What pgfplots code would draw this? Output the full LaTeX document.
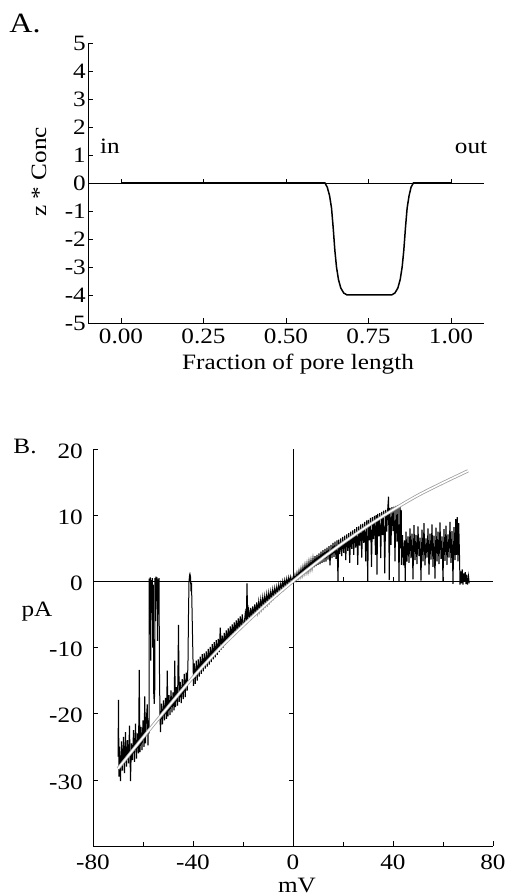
\documentclass[border=0pt]{standalone}
\usepackage{fontspec}
\setmainfont{Liberation Serif}[FakeStretch=1.15]
\usepackage{pgfplots}
\pgfplotsset{compat=1.18}

\pgfplotsset{
  panel/.style={
    scale only axis,
    axis lines*=left,
    axis line style={-, line width=0.8bp},
    tick align=inside,
    major tick length=5bp,
    minor tick length=4bp,
    tick style={line width=0.6bp, black},
    anchor=south west,
    ticklabel style={font=\fontsize{22}{25}\selectfont},
  }
}

% panel A: net fixed charge profile along the pore
\pgfplotstableread{
x      y
0.000  0.00
0.600  0.00
0.618  0.00
0.625 -0.15
0.632 -0.45
0.638 -0.90
0.643 -1.60
0.648 -2.40
0.653 -3.00
0.659 -3.45
0.666 -3.75
0.675 -3.93
0.685 -4.00
0.820 -4.00
0.830 -3.93
0.839 -3.75
0.846 -3.45
0.852 -3.00
0.857 -2.40
0.862 -1.60
0.867 -0.90
0.873 -0.45
0.879 -0.15
0.886  0.00
1.000  0.00
}\chargeprofile

% panel B: fitted I-V curve
\pgfplotstableread{
x    y
-70 -28.3
-60 -23.6
-50 -19.0
-40 -14.5
-30 -10.4
-20  -6.7
-10  -3.2
0     0.0
10    3.0
20    5.8
30    8.4
40   10.8
50   13.0
60   14.9
70   16.7
}\ivfit

\begin{document}
\begin{tikzpicture}[font=\fontsize{22}{25}\selectfont]
\path[use as bounding box] (0,0) rectangle (506bp,895bp);

% ---------------- A ----------------
\begin{axis}[panel,
  at={(88bp,572bp)}, width=396bp, height=280bp,
  xmin=-0.1, xmax=1.1, ymin=-5, ymax=5,
  xtick={0,0.25,0.5,0.75,1},
  xticklabels={0.00,0.25,0.50,0.75,1.00},
  ytick={-5,...,5},
  yticklabels={-5,-4,-3,-2,-1,0,1,2,3,4,5},
  xticklabel style={inner sep=0pt, yshift=-6bp},
  yticklabel style={inner sep=0pt, xshift=-2bp},
]
\draw[line width=0.6bp] (axis cs:-0.1,0) -- (axis cs:1.1,0);
\draw[line width=0.6bp] (axis cs:0,0) -- ([yshift=4bp]axis cs:0,0);
\draw[line width=0.6bp] (axis cs:0.25,0) -- ([yshift=4bp]axis cs:0.25,0);
\draw[line width=0.6bp] (axis cs:0.5,0) -- ([yshift=4bp]axis cs:0.5,0);
\draw[line width=0.6bp] (axis cs:0.75,0) -- ([yshift=4bp]axis cs:0.75,0);
\draw[line width=0.6bp] (axis cs:1,0) -- ([yshift=4bp]axis cs:1,0);
\addplot[black, line width=1.5bp] table {\chargeprofile};
\end{axis}

\node[font=\fontsize{28}{31}\selectfont, anchor=base] at (25bp,862bp) {A.};
\node[rotate=90] at (39bp,723bp) {z * Conc};
\node[anchor=base] at (110bp,741bp) {in};
\node[anchor=base] at (471bp,741bp) {out};
\node[anchor=base] at (298bp,525bp) {Fraction of pore length};

% ---------------- B ----------------
\begin{axis}[panel,
  at={(93bp,49bp)}, width=400bp, height=397bp,
  xmin=-80, xmax=80, ymin=-40, ymax=20,
  xtick={-80,-40,0,40,80},
  xticklabels={-80,-40,0,40,80},
  minor xtick={-60,-20,20,60},
  ytick={-40,-30,-20,-10,0,10,20},
  yticklabels={,-30,-20,-10,0,10,20},
  xticklabel style={inner sep=0pt, yshift=-9bp},
  yticklabel style={inner sep=0pt, xshift=-10bp, yshift=-2bp},
]
\draw[line width=0.6bp] (axis cs:-80,0) -- (axis cs:80,0);
\draw[line width=0.6bp] (axis cs:0,-40) -- (axis cs:0,20);
\draw[line width=0.6bp] (axis cs:0,-30) -- ([xshift=-4bp]axis cs:0,-30);
\draw[line width=0.6bp] (axis cs:0,-20) -- ([xshift=-4bp]axis cs:0,-20);
\draw[line width=0.6bp] (axis cs:0,-10) -- ([xshift=-4bp]axis cs:0,-10);
\draw[line width=0.6bp] (axis cs:0,10) -- ([xshift=-4bp]axis cs:0,10);
\draw[line width=0.6bp] (axis cs:20,0) -- ([yshift=4bp]axis cs:20,0);
\draw[line width=0.6bp] (axis cs:40,0) -- ([yshift=4bp]axis cs:40,0);
\draw[line width=0.6bp] (axis cs:60,0) -- ([yshift=4bp]axis cs:60,0);
\addplot[black, line width=1bp] coordinates {
(-70.0,-26.5) (-69.8,-17.9) (-69.6,-29.5) (-69.4,-25.0) (-69.0,-30.2) (-68.6,-24.2)
(-68.2,-28.6) (-67.8,-23.5) (-67.4,-29.0) (-67.0,-22.8) (-66.6,-28.0) (-66.2,-24.0)
(-65.8,-27.5) (-65.4,-21.8) (-65.0,-30.2) (-64.6,-24.5) (-64.2,-27.0) (-63.8,-22.5)
(-63.4,-27.3) (-63.0,-21.5) (-62.6,-26.8) (-62.2,-23.0) (-61.8,-26.0) (-61.5,-13.4)
(-61.2,-25.8) (-60.8,-22.0) (-60.4,-25.5) (-60.0,-21.0) (-59.6,-25.0) (-59.3,-17.4)
(-59.0,-24.5) (-58.6,-20.5) (-58.3,-18.6) (-58.0,-24.8) (-57.8,-21.0) (-57.6,-23.0)
(-57.5,0.4) (-57.3,-8) (-57.1,0.6) (-56.9,-12) (-56.7,0.2) (-56.5,-4) (-56.3,0.5)
(-56.1,-10) (-55.9,-0.5) (-55.7,-17) (-55.5,-18.5) (-55.3,-16.5) (-55.2,0.5)
(-55.0,-6) (-54.8,0.7) (-54.6,-3) (-54.4,0.6) (-54.2,-9) (-54.0,0.3) (-53.8,-5)
(-53.6,0.5) (-53.4,-14) (-53.2,-20.5)
(-53.0,-22.8) (-52.6,-18.5) (-52.2,-21.6) (-51.8,-18.0) (-51.4,-21.0) (-51.0,-17.6)
(-50.6,-20.8) (-50.3,-13.5) (-50.0,-20.4) (-49.6,-17.2) (-49.2,-20.2) (-48.8,-16.5)
(-48.4,-19.8) (-48.0,-16.8) (-47.6,-19.5) (-47.3,-12.0) (-47.0,-19.0) (-46.6,-16.0)
(-46.2,-18.8) (-45.8,-6.6) (-45.5,-18.2) (-45.1,-15.2) (-44.7,-18.4) (-44.3,-14.8)
(-43.9,-17.8) (-43.5,-14.0) (-43.1,-17.5) (-42.7,-13.8) (-42.3,-16.5) (-42.0,-12.0)
(-41.8,-5) (-41.6,0) (-41.4,0.8) (-41.2,0.3) (-41.0,0.7) (-40.8,-1.5) (-40.6,-0.2)
(-40.4,-4) (-40.2,-8) (-40.0,-11.8) (-39.8,-15.8)
(-39.5,-12.4) (-39.1,-15.5) (-38.7,-12.0) (-38.3,-15.0) (-37.9,-11.8) (-37.5,-14.4)
(-37.1,-11.4) (-36.7,-14.0) (-36.3,-11.0) (-35.9,-13.6) (-35.5,-10.9) (-35.1,-13.2)
(-34.7,-10.6) (-34.3,-12.9) (-33.9,-10.2) (-33.5,-12.6) (-33.1,-9.9) (-32.7,-12.2)
(-32.3,-9.5) (-31.9,-11.8) (-31.5,-9.2) (-31.1,-11.5) (-30.7,-8.9) (-30.3,-11.1)
(-29.9,-8.7) (-29.5,-10.7) (-29.1,-7.0) (-28.7,-10.3) (-28.3,-8.2) (-27.9,-10.0)
(-27.5,-7.8) (-27.1,-9.6) (-26.7,-7.4) (-26.3,-9.2) (-25.9,-7.1) (-25.5,-8.9)
(-25.1,-6.8) (-24.7,-8.5) (-24.3,-6.5) (-23.9,-8.2) (-23.5,-6.2) (-23.1,-7.9)
(-22.7,-5.9) (-22.3,-7.5) (-21.9,-5.6) (-21.5,-7.2) (-21.1,-5.3) (-20.7,-6.9)
(-20.3,-5.0) (-19.9,-6.6) (-19.5,-6.3) (-19.1,-4.8) (-18.7,-6.0) (-18.4,-0.3)
(-18.1,-5.7) (-17.7,-4.3) (-17.3,-5.8) (-16.9,-4.0) (-16.5,-5.5) (-16.1,-3.8)
(-15.7,-5.2) (-15.3,-3.5) (-14.9,-4.9) (-14.5,-3.2) (-14.1,-4.6) (-13.7,-3.0)
(-13.3,-4.3) (-12.9,-2.7) (-12.5,-4.0) (-12.1,-2.4) (-11.7,-3.7) (-11.3,-2.2)
(-10.9,-3.4) (-10.5,-1.9) (-10.1,-3.2) (-9.7,-1.7) (-9.3,-2.9) (-8.9,-1.5)
(-8.5,-2.6) (-8.1,-1.2) (-7.7,-2.3) (-7.3,-1.0) (-6.9,-2.0) (-6.5,-0.8)
(-6.1,-1.8) (-5.7,-0.5) (-5.3,-1.5) (-4.9,-0.3) (-4.5,-1.2) (-4.1,0.0)
(-3.7,-1.0) (-3.3,0.2) (-2.9,-0.7) (-2.5,0.4) (-2.1,-0.5) (-1.7,0.6)
(-1.3,-0.2) (-0.9,0.7) (-0.5,0.0) (0.0,0.6)
(0.4,0.1) (0.8,1.0) (1.2,0.2) (1.6,1.3) (2.0,0.5) (2.4,1.6) (2.8,0.7) (3.2,1.9)
(3.6,0.9) (4.0,2.2) (4.4,1.2) (4.8,2.5) (5.2,1.4) (5.6,2.7) (6.0,1.5) (6.4,3.0)
(6.8,1.8) (7.2,3.2) (7.6,2.0) (8.0,3.5) (8.4,2.1) (8.8,3.8) (9.2,2.3) (9.6,4.0)
(10.0,2.5) (10.4,4.2) (10.8,2.6) (11.2,4.5) (11.6,2.8) (12.0,4.7) (12.4,2.9)
(12.8,4.9) (13.2,3.0) (13.6,5.1) (14.0,3.3) (14.4,5.3) (14.8,2.4) (15.2,5.5)
(15.6,3.5) (16.0,5.8) (16.4,3.7) (16.8,6.0) (17.2,3.4) (17.6,6.2) (18.0,0.0)
(18.3,6.3) (18.7,4.1) (19.1,6.5) (19.5,3.8) (19.9,6.7) (20.3,4.3) (20.7,6.9)
(21.1,3.2) (21.5,7.1) (21.9,4.6) (22.3,7.3) (22.7,2.8) (23.1,7.5) (23.5,4.9)
(23.9,7.7) (24.3,4.0) (24.7,7.9) (25.1,5.1) (25.5,8.2) (25.9,2.5) (26.3,8.3)
(26.7,5.4) (27.1,8.6) (27.5,3.6) (27.9,8.7) (28.3,5.8) (28.7,9.0) (29.1,3.0)
(29.5,9.2) (29.9,0.0) (30.2,9.3) (30.6,6.2) (31.0,9.6) (31.4,2.2) (31.8,9.7)
(32.2,6.4) (32.6,9.9) (33.0,4.0) (33.3,10.0) (33.6,1.0) (33.9,10.2) (34.3,6.8)
(34.7,10.3) (35.1,3.5) (35.5,10.5) (35.9,7.0) (36.3,10.7) (36.7,1.2) (37.1,10.8)
(37.5,7.5) (37.9,11.0) (38.2,12.8) (38.5,0.2) (38.8,11.1) (39.2,5.5) (39.6,11.2)
(40.0,7.6) (40.4,11.3) (40.8,3.0) (41.2,11.4) (41.6,6.0) (42.0,11.5) (42.4,0.0)
(42.8,11.4) (43.1,5.0) (43.3,10.8) (43.4,2.5)
(43.8,7.0) (44.2,2.4) (44.6,6.2) (44.9,0.0) (45.2,7.5) (45.6,3.0) (46.0,6.8)
(46.4,2.8) (46.8,8.0) (47.2,3.5) (47.6,7.2) (48.0,0.3) (48.4,8.5) (48.8,3.2)
(49.2,7.0) (49.6,2.6) (50.0,8.3) (50.4,3.8) (50.8,6.6) (51.2,0.1) (51.6,7.8)
(52.0,3.0) (52.4,8.8) (52.8,2.4) (53.2,6.5) (53.6,3.6) (54.0,8.0) (54.4,1.0)
(54.8,7.2) (55.2,3.3) (55.6,8.6) (56.0,2.2) (56.4,6.9) (56.8,0.4) (57.2,8.1)
(57.6,3.0) (58.0,7.5) (58.4,2.6) (58.8,8.9) (59.2,3.4) (59.6,6.8) (60.0,0.0)
(60.4,7.9) (60.8,3.1) (61.2,8.4) (61.6,2.5) (62.0,7.1) (62.4,3.6) (62.8,9.0)
(63.2,2.8) (63.6,7.6) (64.0,-0.4) (64.4,8.2) (64.8,3.2) (65.1,9.4) (65.4,4.0)
(65.7,9.7) (66.0,3.0) (66.3,8.8) (66.6,4.0) (66.8,-0.5) (67.1,1.5) (67.4,-0.3)
(67.7,1.8) (68.0,-0.5) (68.3,1.2) (68.6,0.0) (68.9,1.4) (69.2,-0.4) (69.5,1.0)
(69.8,-0.5) (70.2,0.8) (70.5,-0.3)
};
\addplot[smooth, draw=gray!75, double=white, double distance=1.6bp, line width=0.8bp]
  table {\ivfit};
\end{axis}

\node[anchor=base] at (25bp,441bp) {B.};
\node[anchor=base] at (37bp,278bp) {pA};
\node[anchor=base] at (297bp,3bp) {mV};
\end{tikzpicture}
\end{document}
